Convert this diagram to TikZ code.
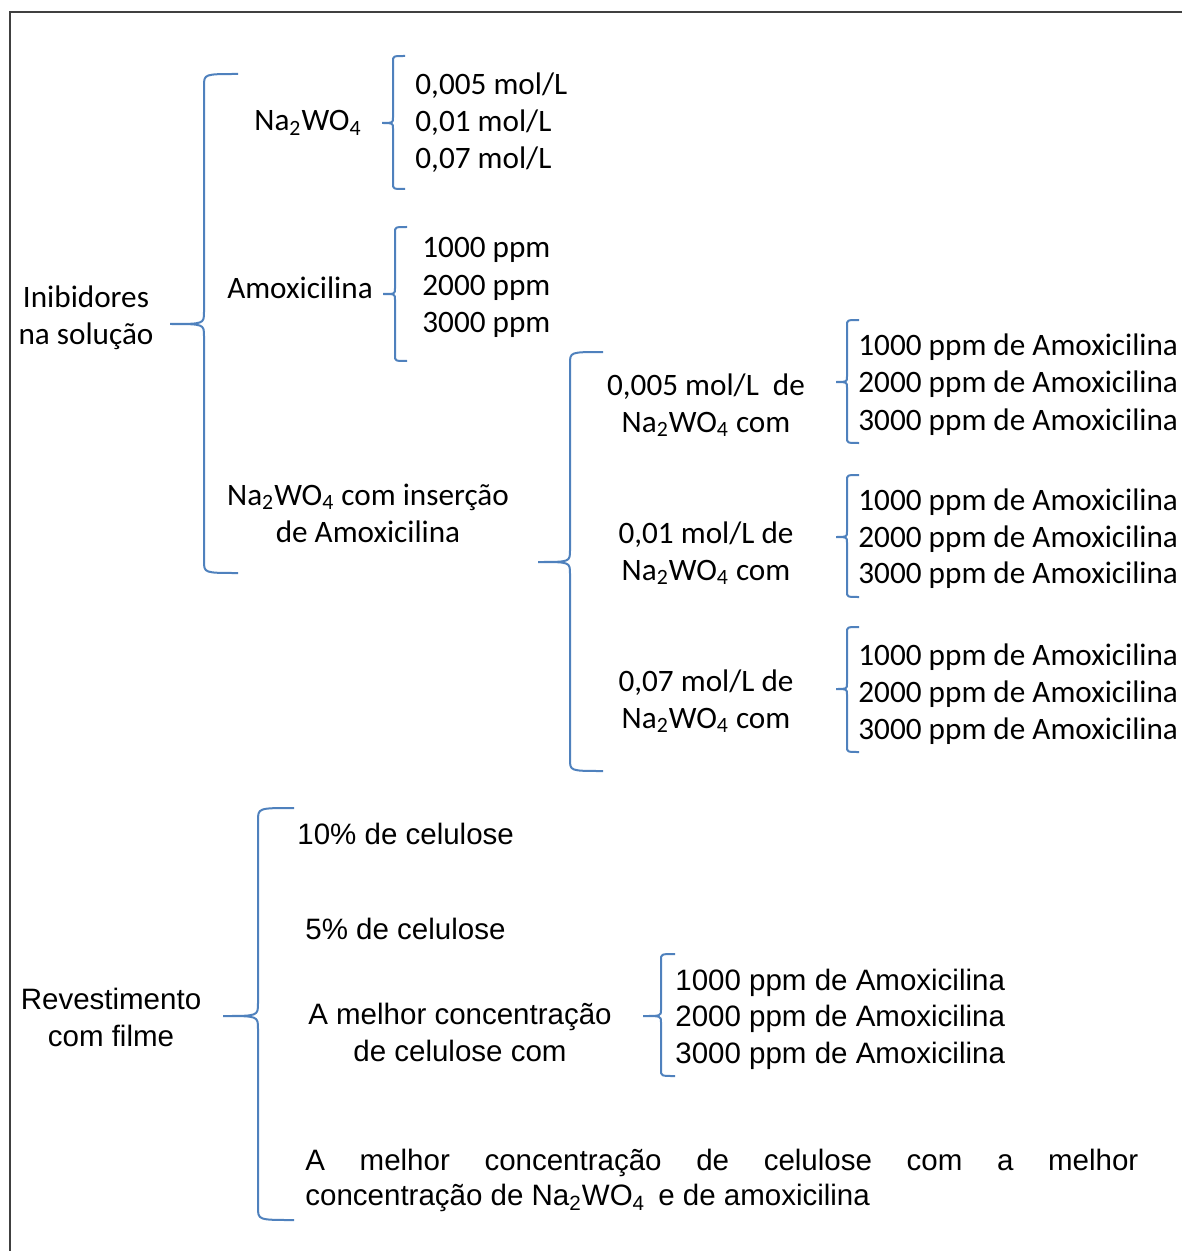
\documentclass[tikz,border=0pt]{standalone}
\usepackage{fontspec}
\setmainfont{Carlito}
\newfontfamily\arial{Liberation Sans}
\usetikzlibrary{positioning}
\definecolor{bracecol}{RGB}{79,129,189}
\tikzset{
	group/.style={align=center, font=\fontsize{15.6}{18.5}\selectfont},
	entry/.style={anchor=base west, inner sep=0pt, font=\fontsize{15.6}{18.5}\selectfont},
	% Arial part (lower block)
	agroup/.style={align=center, font=\arial\fontsize{14.75}{18.5}\selectfont},
	aentry/.style={anchor=base west, inner sep=0pt, font=\arial\fontsize{14.75}{18.5}\selectfont},
	curly/.style={draw=bracecol, line width=1pt},
	boxline/.style={draw=black!75, line width=1pt},
}
% x, top, middle, bottom, hook, tip
\newcommand{\chave}[6]{%
	\draw[curly] ({#1+#5},#2) .. controls (#1,#2) .. (#1,{#2+0.3*#5+2})
		-- (#1,{#3-0.3*#5-2}) .. controls (#1,#3) .. ({#1-#6},#3)
		.. controls (#1,#3) .. (#1,{#3+0.3*#5+2})
		-- (#1,{#4-0.3*#5-2}) .. controls (#1,#4) .. ({#1+#5},#4);}

\begin{document}
\begin{tikzpicture}[x=0.5pt, y=-0.5pt]
	\useasboundingbox (0,0) rectangle (1182,1251);
	\draw[boxline] (1182,12) -- (10,12) -- (10,1251);
	
	\node (inib) [group] at (86,318) {Inibidores\\na solução};
	
	\node (na) [group] at (308,123) {Na\textsubscript{2}WO\textsubscript{4}};
	\node (na1) [entry] at (415,95) {0,005 mol/L};
	\node (na2) [entry] at (415,132) {0,01 mol/L};
	\node (na3) [entry] at (415,169) {0,07 mol/L};
	
	\node (amox) [group] at (300,288) {Amoxicilina};
	\node (am1) [entry] at (422,258) {1000 ppm};
	\node (am2) [entry] at (422,296) {2000 ppm};
	\node (am3) [entry] at (422,333) {3000 ppm};
	
	\node (ins) [group] at (368,513) {Na\textsubscript{2}WO\textsubscript{4} com inserção\\de Amoxicilina};
	
	\node (c1) [group] at (706,405) {0,005 mol/L~~de\\Na\textsubscript{2}WO\textsubscript{4} com};
	\node (a11) [entry] at (858,355) {1000 ppm de Amoxicilina};
	\node (a12) [entry] at (858,392) {2000 ppm de Amoxicilina};
	\node (a13) [entry] at (858,430) {3000 ppm de Amoxicilina};
	
	\node (c2) [group] at (706,553) {0,01 mol/L de\\Na\textsubscript{2}WO\textsubscript{4} com};
	\node (a21) [entry] at (858,510) {1000 ppm de Amoxicilina};
	\node (a22) [entry] at (858,547) {2000 ppm de Amoxicilina};
	\node (a23) [entry] at (858,583) {3000 ppm de Amoxicilina};
	
	\node (c3) [group] at (706,701) {0,07 mol/L de\\Na\textsubscript{2}WO\textsubscript{4} com};
	\node (a31) [entry] at (858,665) {1000 ppm de Amoxicilina};
	\node (a32) [entry] at (858,702) {2000 ppm de Amoxicilina};
	\node (a33) [entry] at (858,739) {3000 ppm de Amoxicilina};
	
	\node (rev) [agroup] at (111,1017) {Revestimento\\com filme};
	\node (cel10) [aentry] at (297,844) {10\% de celulose};
	\node (cel5) [aentry] at (305,939) {5\% de celulose};
	\node (best) [agroup] at (460,1032) {A melhor concentração\\de celulose com};
	\node (b1) [aentry] at (675,990) {1000 ppm de Amoxicilina};
	\node (b2) [aentry] at (675,1026) {2000 ppm de Amoxicilina};
	\node (b3) [aentry] at (675,1063) {3000 ppm de Amoxicilina};
	\node (final) [anchor=north west, inner sep=0pt, text width=416.5pt, align=justify,
		font=\arial\fontsize{14.75}{17.5}\selectfont] at (305,1149)
		{A melhor concentração de celulose com a melhor\linebreak
		concentração de Na\textsubscript{2}WO\textsubscript{4}\,~e de amoxicilina};
	
	\chave{204}{74}{324}{573}{34}{34}
	\chave{393}{56}{123}{189}{12}{11}
	\chave{395}{227}{294}{361}{12}{12}
	\chave{570}{352}{562}{771}{33}{32}
	\chave{847}{320}{382}{443}{12}{11}
	\chave{847}{475}{537}{597}{12}{11}
	\chave{847}{627}{689}{752}{12}{11}
	\chave{258}{808}{1016}{1220}{36}{35}
	\chave{661}{954}{1016}{1076}{14}{18}
	
\end{tikzpicture}
\end{document}
